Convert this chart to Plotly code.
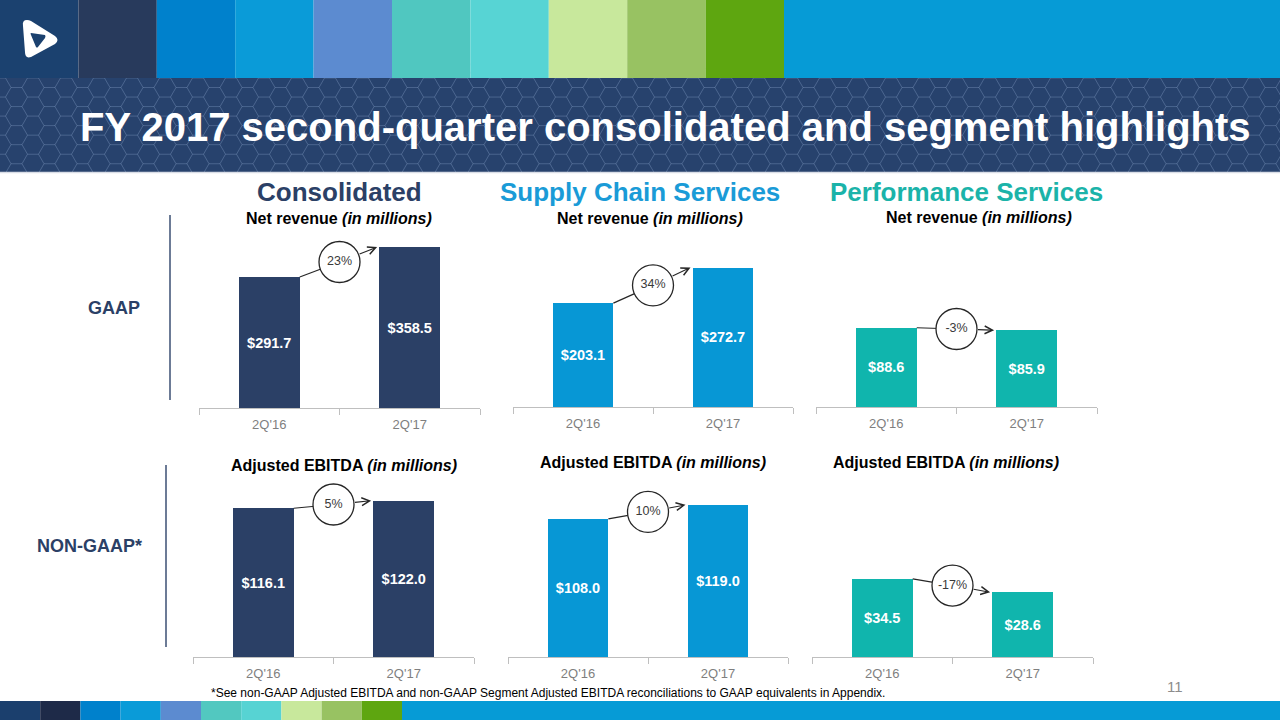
import plotly.graph_objects as go

W, H = 1280, 720

# ---------------- data ----------------
periods = ["2Q'16", "2Q'17"]
consolidated_revenue = [291.7, 358.5]
scs_revenue = [203.1, 272.7]
ps_revenue = [88.6, 85.9]
consolidated_ebitda = [116.1, 122.0]
scs_ebitda = [108.0, 119.0]
ps_ebitda = [34.5, 28.6]

section_titles = ["Consolidated", "Supply Chain Services", "Performance Services"]
revenue_subtitle = "<b>Net revenue <i>(in millions)</i></b>"
ebitda_subtitle = "<b>Adjusted EBITDA <i>(in millions)</i></b>"
row_labels = ["GAAP", "NON-GAAP*"]
slide_title = "FY 2017 second-quarter consolidated and segment highlights"
footnote = ("*See non-GAAP Adjusted EBITDA and non-GAAP Segment Adjusted EBITDA "
            "reconciliations to GAAP equivalents in Appendix.")
page_number = "11"

# ---------------- styles ----------------
FONT = "Liberation Sans, Arial, sans-serif"
NAVY = "#2b4066"
BLUE = "#0797d5"
TEAL = "#10b5ad"
TITLE_BLUE = "#1a9bd7"
TITLE_TEAL = "#1bb3a9"
AXIS_GREY = "#bfbfbf"
TICK_GREY = "#7f7f7f"
INK = "#262626"

panels = [
    dict(values=consolidated_revenue, color=NAVY, x0=199, x1=480, base=408, ymax=400.8),
    dict(values=scs_revenue, color=BLUE, x0=513, x1=793, base=407, ymax=352.0),
    dict(values=ps_revenue, color=TEAL, x0=816, x1=1097, base=407, ymax=201.3),
    dict(values=consolidated_ebitda, color=NAVY, x0=193, x1=474, base=657, ymax=140.5),
    dict(values=scs_ebitda, color=BLUE, x0=508, x1=788, base=657, ymax=140.8),
    dict(values=ps_ebitda, color=TEAL, x0=812, x1=1093, base=657, ymax=79.5),
]
PLOT_H = 180
BAR_W = 0.434
HW = BAR_W / 2


def px(x):
    return x / W


def py(y):
    return 1 - y / H


def pt(x, y):
    return f"{px(x):.5f},{py(y):.5f}"


fig = go.Figure()
annotations = []
shapes = []

for i, p in enumerate(panels):
    n = "" if i == 0 else str(i + 1)
    xa, ya = "x" + n, "y" + n
    v1, v2 = p["values"]
    mid = (v1 + v2) / 2
    pct = f"{round((v2 / v1 - 1) * 100):.0f}%"

    fig.add_trace(go.Bar(
        x=[0, 1], y=p["values"], width=BAR_W, marker=dict(color=p["color"], line=dict(width=0)),
        text=[f"${v:.1f}" for v in p["values"]], textposition="inside",
        insidetextanchor="middle", constraintext="none",
        textfont=dict(color="white", size=14.5, family=FONT, weight="bold"),
        xaxis=xa, yaxis=ya, showlegend=False, hoverinfo="skip",
    ))
    fig.add_trace(go.Scatter(
        x=[HW, 0.5], y=[v1, mid], mode="lines", line=dict(color=INK, width=1.2),
        xaxis=xa, yaxis=ya, showlegend=False, hoverinfo="skip",
    ))
    fig.add_trace(go.Scatter(
        x=[0.5], y=[mid], mode="markers+text",
        marker=dict(size=41, color="white", line=dict(color=INK, width=1.3)),
        text=[pct], textposition="middle center",
        textfont=dict(size=12.5, color="#3a3a3a", family=FONT),
        xaxis=xa, yaxis=ya, showlegend=False, hoverinfo="skip", cliponaxis=False,
    ))
    annotations.append(dict(
        xref=xa, yref=ya, axref=xa, ayref=ya, x=1 - HW - 0.015, y=v2, ax=0.5, ay=mid,
        text="", showarrow=True, arrowhead=5, arrowsize=1.4, arrowwidth=1.1,
        arrowcolor=INK, startstandoff=20,
    ))

    fig.layout["xaxis" + n] = dict(
        domain=[px(p["x0"]), px(p["x1"])], range=[-0.5, 1.5], anchor=ya,
        tickvals=[0, 1], ticktext=periods, ticks="", showgrid=False, zeroline=False,
        showline=True, linecolor=AXIS_GREY, linewidth=1,
        minor=dict(tickvals=[-0.5, 0.5, 1.5], ticks="outside", ticklen=6,
                   tickcolor=AXIS_GREY, tickwidth=1, showgrid=False),
        tickfont=dict(size=13, color=TICK_GREY, family=FONT),
        ticklabelstandoff=4, fixedrange=True,
    )
    fig.layout["yaxis" + n] = dict(
        domain=[py(p["base"]), py(p["base"] - PLOT_H)], range=[0, p["ymax"]],
        anchor=xa, visible=False, fixedrange=True,
    )

# ---------------- header decoration ----------------
shapes.append(dict(type="rect", xref="paper", yref="paper", x0=0, x1=1, y0=py(172), y1=py(78),
                   fillcolor="#27426d", line=dict(width=0), layer="below"))
r = 11.0
hh = r * 0.8660254
segs = []
col = 0
cx = 0.0
while cx < W + 2 * r:
    offs = 0 if col % 2 == 0 else hh
    cy = 78 - hh + offs
    while cy < 172 + 2 * hh:
        verts = [(cx + r, cy), (cx + r / 2, cy + hh), (cx - r / 2, cy + hh),
                 (cx - r, cy), (cx - r / 2, cy - hh), (cx + r / 2, cy - hh)]
        segs.append("M" + pt(*verts[0]) + "".join("L" + pt(*v) for v in verts[1:]) + "Z")
        cy += 2 * hh
    cx += 1.5 * r
    col += 1
shapes.append(dict(type="path", xref="paper", yref="paper", path="".join(segs),
                   line=dict(color="rgba(160,185,225,0.16)", width=1), layer="below"))
shapes.append(dict(type="rect", xref="paper", yref="paper", x0=0, x1=1, y0=py(200), y1=py(172),
                   fillcolor="white", line=dict(width=0), layer="below"))
shapes.append(dict(type="line", xref="paper", yref="paper", x0=0, x1=1, y0=py(172.5), y1=py(172.5),
                   line=dict(color="#d9dde6", width=1.5), layer="below"))

top_colors = ["#1b416f", "#283a5c", "#0081cc", "#0a9bd8", "#5c8bd0", "#50c7c0",
              "#57d4d4", "#c8e89c", "#98c262", "#5ea610"]
top_w = 78.4
for k, c in enumerate(top_colors):
    shapes.append(dict(type="rect", xref="paper", yref="paper",
                       x0=px(k * top_w), x1=px((k + 1) * top_w), y0=py(78), y1=1,
                       fillcolor=c, line=dict(width=0), layer="below"))
shapes.append(dict(type="rect", xref="paper", yref="paper",
                   x0=px(len(top_colors) * top_w), x1=1, y0=py(78), y1=1,
                   fillcolor="#069bd6", line=dict(width=0), layer="below"))

logo_outer = ("M" + pt(27, 20) + "Q" + pt(22, 20) + " " + pt(23, 26) + "L" + pt(25, 52)
              + "Q" + pt(25, 59) + " " + pt(31, 57) + "L" + pt(55, 44)
              + "Q" + pt(60, 40) + " " + pt(55, 36) + "L" + pt(31, 21)
              + "Q" + pt(29, 20) + " " + pt(27, 20) + "Z")
logo_inner = ("M" + pt(31, 33) + "L" + pt(45, 35) + "Q" + pt(46, 36) + " " + pt(45, 38)
              + "L" + pt(38, 47) + "Q" + pt(37, 48) + " " + pt(36, 47) + "L" + pt(31, 35)
              + "Q" + pt(30, 33) + " " + pt(31, 33) + "Z")
shapes.append(dict(type="path", xref="paper", yref="paper", path=logo_outer,
                   fillcolor="white", line=dict(width=0), layer="below"))
shapes.append(dict(type="path", xref="paper", yref="paper", path=logo_inner,
                   fillcolor="#1b416f", line=dict(width=0), layer="below"))

bottom_colors = ["#1b3f6d", "#1e2a48", "#0081cc", "#0a9bd8", "#5c8bd0", "#52c8c0",
                 "#57d3d3", "#c8e89c", "#98c262", "#5ea610"]
bw = 40.2
for k, c in enumerate(bottom_colors):
    shapes.append(dict(type="rect", xref="paper", yref="paper",
                       x0=px(k * bw), x1=px((k + 1) * bw), y0=0, y1=py(701),
                       fillcolor=c, line=dict(width=0), layer="below"))
shapes.append(dict(type="rect", xref="paper", yref="paper",
                   x0=px(len(bottom_colors) * bw), x1=1, y0=0, y1=py(701),
                   fillcolor="#069bd6", line=dict(width=0), layer="below"))

shapes.append(dict(type="line", xref="paper", yref="paper", x0=px(170), x1=px(170),
                   y0=py(215), y1=py(400), line=dict(color="#3b4f73", width=1.5)))
shapes.append(dict(type="line", xref="paper", yref="paper", x0=px(166), x1=px(166),
                   y0=py(465), y1=py(647), line=dict(color="#3b4f73", width=1.5)))


def label(text, x, y, size, color, bold=True, xanchor="center"):
    annotations.append(dict(
        xref="paper", yref="paper", x=px(x), y=py(y), xanchor=xanchor, yanchor="middle",
        text=f"<b>{text}</b>" if bold else text, showarrow=False,
        font=dict(size=size, color=color, family=FONT),
    ))


label(slide_title, 665, 127, 40, "white")
label(section_titles[0], 339, 192, 26, NAVY)
label(section_titles[1], 640, 192, 26, TITLE_BLUE)
label(section_titles[2], 966, 192, 26, TITLE_TEAL)
for (x, y) in [(339, 218), (650, 218), (979, 217)]:
    label(revenue_subtitle, x, y, 16, "black", bold=False)
for (x, y) in [(344, 465), (653, 462), (946, 462)]:
    label(ebitda_subtitle, x, y, 16, "black", bold=False)
label(row_labels[0], 114, 308, 18, NAVY)
label(row_labels[1], 89, 546, 18, NAVY)
label(footnote, 209, 693, 12, "black", bold=False, xanchor="left")
label(page_number, 1175, 686, 15, "#8c8c8c", bold=False)

fig.update_layout(
    width=W, height=H, margin=dict(l=0, r=0, t=0, b=0),
    paper_bgcolor="white", plot_bgcolor="rgba(0,0,0,0)",
    shapes=shapes, annotations=annotations, showlegend=False,
    font=dict(family=FONT), bargap=0,
)

fig.write_html("out.html", config={"displayModeBar": False, "staticPlot": True},
               post_script="document.body.style.margin='0';document.body.style.overflow='hidden';")
